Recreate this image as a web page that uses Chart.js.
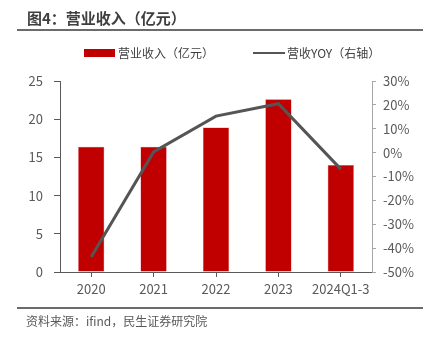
<!DOCTYPE html>
<html>
<head>
<meta charset="utf-8">
<script src="https://cdn.jsdelivr.net/npm/chart.js@4/dist/chart.umd.min.js"></script>
<style>
  html, body { margin: 0; padding: 0; background: #fff; }
  #wrap { position: relative; width: 433px; height: 341px; overflow: hidden;
          font-family: "Noto Sans CJK SC", "Noto Sans", sans-serif; }
  #c { position: absolute; left: 0; top: 0; }
  .title { position: absolute; left: 27px; top: 7px; font-size: 15px; font-weight: bold;
           color: #3f3f3f; line-height: 22px; white-space: nowrap; }
  .rule { position: absolute; left: 17px; width: 406px; height: 2px; background: #6b6b6b; }
  .leg { position: absolute; font-size: 12px; color: #404040; line-height: 16px; white-space: nowrap; }
  .box { position: absolute; }
  .src { position: absolute; left: 26px; top: 313px; font-size: 12px; color: #595959;
         line-height: 16px; white-space: nowrap; }
</style>
</head>
<body>
<div id="wrap">
  <canvas id="c" width="433" height="341"></canvas>
  <div class="title">图4：营业收入（亿元）</div>
  <div class="rule" style="top:29px"></div>
  <div class="box" style="left:84px;top:49px;width:31px;height:8px;background:#C00000"></div>
  <div class="leg" style="left:118px;top:45px">营业收入（亿元）</div>
  <div class="box" style="left:253px;top:52px;width:32px;height:2px;background:#555555"></div>
  <div class="leg" style="left:287px;top:45px">营收YOY（右轴）</div>
  <div class="rule" style="top:307px"></div>
  <div class="src">资料来源：ifind，民生证券研究院</div>
</div>
<script>
// Annual revenue (100 million yuan) and year-on-year growth (%)
const years = ['2020', '2021', '2022', '2023', '2024Q1-3'];
const revenue = [16.4, 16.4, 18.9, 22.6, 14.0];
const revenueYoY = [-43.7, 0.3, 15.3, 20.5, -6.9];
const revenueTicks = [0, 5, 10, 15, 20, 25];
const yoyTicks = [-50, -40, -30, -20, -10, 0, 10, 20, 30];

const axisColor = '#595959';
const tickFont = { family: '"Noto Sans CJK SC", "Noto Sans", sans-serif', size: 13 };

new Chart(document.getElementById('c'), {
  data: {
    labels: years,
    datasets: [
      {
        type: 'line',
        label: '营收YOY（右轴）',
        data: revenueYoY,
        yAxisID: 'y1',
        borderColor: '#555555',
        borderWidth: 3,
        pointRadius: 0,
        tension: 0,
        order: 0
      },
      {
        type: 'bar',
        label: '营业收入（亿元）',
        data: revenue,
        yAxisID: 'y',
        backgroundColor: '#C00000',
        borderColor: '#d9595f',
        borderWidth: 0.5,
        barPercentage: 0.42,
        categoryPercentage: 1,
        order: 1
      }
    ]
  },
  options: {
    responsive: false,
    animation: false,
    layout: { padding: { top: 81, bottom: 39, left: 0, right: 0 } },
    plugins: { legend: { display: false }, title: { display: false }, tooltip: { enabled: false } },
    scales: {
      x: {
        offset: true,
        afterFit: s => { s.height = 30; },
        border: { display: true, color: axisColor, width: 1 },
        grid: { display: true, drawOnChartArea: false, drawTicks: true, tickLength: 5, color: axisColor, offset: false },
        ticks: { color: axisColor, font: tickFont, padding: 4, maxRotation: 0, autoSkip: false }
      },
      y: {
        position: 'left',
        min: 0, max: 25,
        afterFit: s => { s.width = 60; },
        afterBuildTicks: s => { s.ticks = revenueTicks.map(v => ({ value: v })); },
        border: { display: true, color: axisColor, width: 1 },
        grid: { display: true, drawOnChartArea: false, drawTicks: true, tickLength: 6, color: axisColor },
        ticks: { color: axisColor, font: tickFont, padding: 11 }
      },
      y1: {
        position: 'right',
        min: -50, max: 30,
        afterFit: s => { s.width = 61; },
        afterBuildTicks: s => { s.ticks = yoyTicks.map(v => ({ value: v })); },
        border: { display: true, color: '#a6a6a6', width: 1 },
        grid: { display: true, drawOnChartArea: false, drawTicks: true, tickLength: 4, color: '#a6a6a6' },
        ticks: { color: axisColor, font: tickFont, padding: 7, callback: v => v + '%' }
      }
    }
  }
});
</script>
</body>
</html>
